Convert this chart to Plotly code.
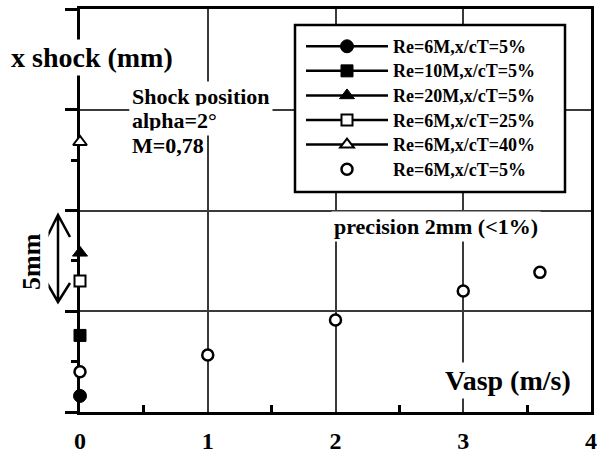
import plotly.graph_objects as go

# ---- data ----
series_names = ["Re=6M,x/cT=5%", "Re=10M,x/cT=5%", "Re=20M,x/cT=5%",
                "Re=6M,x/cT=25%", "Re=6M,x/cT=40%", "Re=6M,x/cT=5%"]
s1_x = [0]; s1_y = [0.8]
s2_x = [0]; s2_y = [3.8]
s3_x = [0]; s3_y = [7.9]
s4_x = [0]; s4_y = [6.5]
s5_x = [0]; s5_y = [13.4]
s6_x = [0, 1, 2, 3, 3.6]; s6_y = [2.0, 2.83, 4.57, 6.0, 6.93]
x_ticks = [0, 1, 2, 3, 4]
x_ticklabels = ["0", "1", "2", "3", "4"]

# ---- layout helpers (pixel -> paper) ----
W, H = 598, 456
L, R, T, B = 80, 591, 9, 412
def px(x): return (x - L) / (R - L)
def py(y): return (B - y) / (B - T)

FONT = "Liberation Serif"

fig = go.Figure()
styles = [
    dict(symbol="circle", color="black", size=13, line=dict(color="black", width=1)),
    dict(symbol="square", color="black", size=12, line=dict(color="black", width=1)),
    dict(symbol="triangle-up", color="black", size=13, line=dict(color="black", width=1)),
    dict(symbol="square", color="white", size=11, line=dict(color="black", width=2)),
    dict(symbol="triangle-up", color="white", size=12, line=dict(color="black", width=2)),
    dict(symbol="circle", color="white", size=11, line=dict(color="black", width=2.5)),
]
data = [(s1_x, s1_y), (s2_x, s2_y), (s3_x, s3_y), (s4_x, s4_y), (s5_x, s5_y), (s6_x, s6_y)]
for i, ((xs, ys), nm, st) in enumerate(zip(data, series_names, styles)):
    fig.add_trace(go.Scatter(
        x=xs, y=ys, name='<span style="font-size:18px">%s</span>' % nm,
        legendgroup="g%d" % i,
        mode="markers" if i == 5 else "lines+markers",
        marker=st, line=dict(color="black", width=2.5),
        cliponaxis=False,
    ))

axis_common = dict(showline=True, linewidth=3, linecolor="black", mirror=True,
                   zeroline=False, showgrid=True, gridcolor="#3a3a3a", gridwidth=2,
                   layer="below traces", automargin=False)
fig.update_xaxes(range=[0, 4], tickvals=x_ticks, ticktext=x_ticklabels, ticks="",
                 tickfont=dict(family=FONT, size=24, color="black", weight="bold"),
                 ticklabelstandoff=5,
                 minor=dict(tickvals=[0.5, 1.5, 2.5, 3.5], ticks="inside", ticklen=7,
                            tickwidth=2.5, tickcolor="black", showgrid=False),
                 **axis_common)
fig.update_yaxes(range=[0, 20], dtick=5, tick0=0, showticklabels=False, ticks="outside",
                 ticklen=12, tickwidth=2.5, tickcolor="black",
                 minor=dict(dtick=2.5, tick0=0, ticks="outside", ticklen=6,
                            tickwidth=2.5, tickcolor="black", showgrid=False),
                 **axis_common)

def ann(text, x, y, size, xanchor="center", angle=0):
    fig.add_annotation(text=text, x=px(x), y=py(y), xref="paper", yref="paper",
                       xanchor=xanchor, yanchor="middle", showarrow=False,
                       textangle=angle, bgcolor="white", borderpad=2,
                       font=dict(family=FONT, size=size, color="black", weight="bold"))

ann("x shock (mm)", 92, 57, 28)
ann("Shock position", 129, 97, 22, "left")
ann("alpha=2°", 129, 121, 22, "left")
ann("M=0,78", 129, 145, 22, "left")
ann("precision 2mm (&lt;1%)", 436, 226, 22)
ann("Vasp (m/s)", 508, 380, 28)
ann("5mm", 31, 262, 26, angle=-90)

# double arrow (5 mm scale)
def P(x, y): return "%.5f,%.5f" % (px(x), py(y))
path = ("M" + P(58, 215) + " L" + P(58, 302) +
        " M" + P(47, 237) + " L" + P(58, 215) + " L" + P(70, 237) +
        " M" + P(47, 283) + " L" + P(58, 302) + " L" + P(70, 283))
fig.add_shape(type="path", path=path, xref="paper", yref="paper",
              line=dict(color="black", width=2.5), layer="above")

# legend box
fig.add_shape(type="rect", xref="paper", yref="paper",
              x0=px(295), x1=px(565), y0=py(25), y1=py(192),
              line=dict(color="black", width=2.5), fillcolor="white", layer="above")

fig.update_layout(
    width=W, height=H,
    margin=dict(l=L, r=W - R, t=T, b=H - B, autoexpand=False),
    paper_bgcolor="white", plot_bgcolor="white",
    showlegend=True,
    legend=dict(x=px(301), y=py(29), xanchor="left", yanchor="top",
                bgcolor="rgba(0,0,0,0)", borderwidth=0,
                font=dict(family=FONT, size=16.6, color="black", weight="bold"),
                tracegroupgap=0, itemwidth=82),
)
fig.write_html("out.html", config={"displayModeBar": False},
               post_script="document.body.style.margin='0';document.body.style.overflow='hidden';")
